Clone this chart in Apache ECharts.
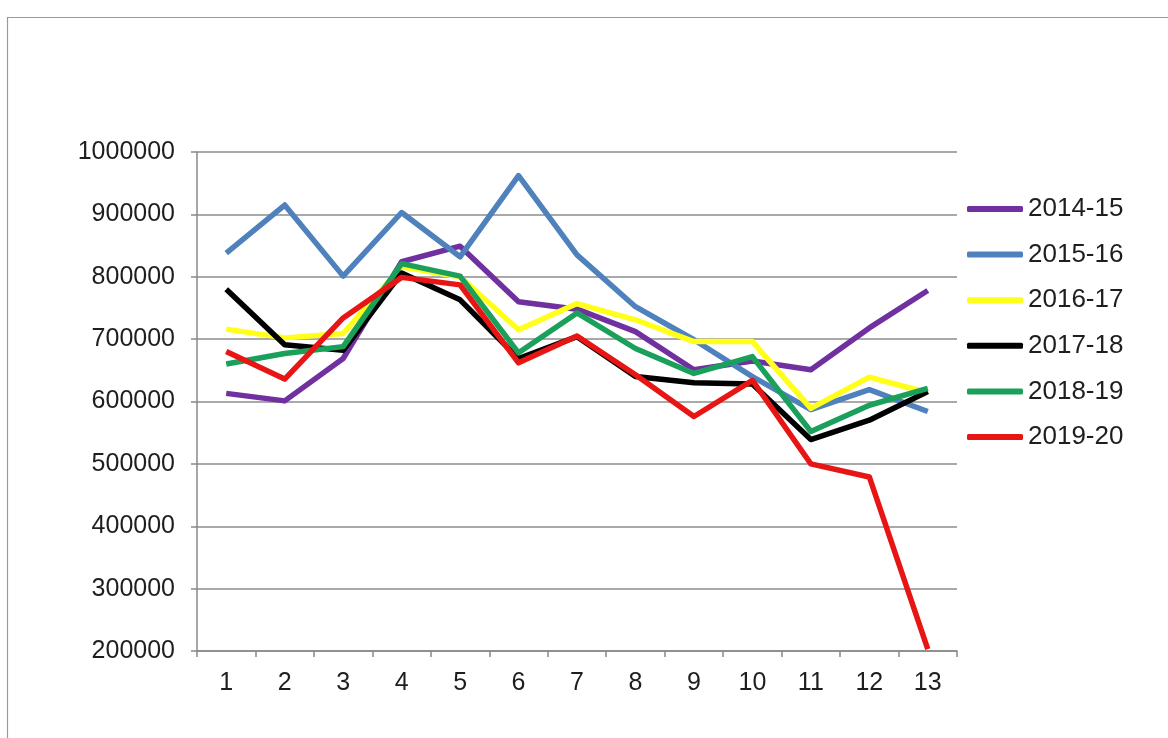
<!DOCTYPE html>
<html>
<head>
<meta charset="utf-8">
<script src="https://cdn.jsdelivr.net/npm/echarts@6/dist/echarts.min.js"></script>
<style>html,body{margin:0;padding:0;background:#fff;}#c{width:1168px;height:738px;}</style>
</head>
<body>
<div id="c"></div>
<script>
const categories = ['1','2','3','4','5','6','7','8','9','10','11','12','13'];
const seriesNames = ['2014-15','2015-16','2016-17','2017-18','2018-19','2019-20'];
const s2014 = [613000,601000,669000,824000,849000,760000,748000,712000,651000,665000,651000,718000,778000];
const s2015 = [838000,915000,801000,903000,832000,962000,835000,752000,699000,640000,587000,619000,584000];
const s2016 = [716000,702000,709000,816000,800000,715000,757000,731000,696000,696000,589000,639000,614000];
const s2017 = [780000,691000,682000,806000,763000,669000,704000,640000,630000,628000,539000,570000,616000];
const s2018 = [660000,677000,688000,821000,801000,678000,742000,685000,645000,672000,552000,594000,621000];
const s2019 = [680000,636000,734000,799000,787000,662000,705000,643000,576000,634000,500000,479000,203000];
const yTicks = [200000,300000,400000,500000,600000,700000,800000,900000,1000000];
const colors = ['#7030A0','#4F81BD','#FFFF1A','#000000','#1AA05A','#E81515'];
const allData = [s2014,s2015,s2016,s2017,s2018,s2019];

const chart = echarts.init(document.getElementById('c'));
const font = '"Liberation Sans", Arial, sans-serif';
chart.setOption({
  animation: false,
  backgroundColor: '#ffffff',
  graphic: [{
    type: 'rect', left: 5, top: 15, shape: {width: 1200, height: 800},
    style: {fill: 'none', stroke: '#9a9a9a', lineWidth: 1.2}, silent: true, z: -1
  }],
  grid: {left: 197, right: 211, top: 152, bottom: 87, containLabel: false},
  legend: {
    orient: 'vertical', left: 962, top: 191,
    itemWidth: 56, itemHeight: 6, itemGap: 19.6,
    icon: 'roundRect',
    textStyle: {fontFamily: font, fontSize: 26, color: '#1e1e1e', lineHeight: 26},
    data: seriesNames
  },
  xAxis: {
    type: 'category', data: categories, boundaryGap: true,
    axisLine: {lineStyle: {color: '#888888', width: 1.5}},
    axisTick: {show: true, inside: false, length: 6, alignWithLabel: false, lineStyle: {color: '#888888', width: 1.5}},
    axisLabel: {fontFamily: font, fontSize: 25, color: '#1e1e1e', margin: 20},
    splitLine: {show: false}
  },
  yAxis: {
    type: 'value', min: yTicks[0], max: yTicks[yTicks.length-1], interval: 100000,
    axisLine: {show: true, lineStyle: {color: '#888888', width: 1.5}},
    axisTick: {show: true, inside: false, length: 6, lineStyle: {color: '#888888', width: 1.5}},
    axisLabel: {fontFamily: font, fontSize: 25, color: '#1e1e1e', margin: 22, formatter: v => String(v)},
    splitLine: {show: true, lineStyle: {color: '#8c8c8c', width: 1.5}}
  },
  series: seriesNames.map((n, i) => ({
    name: n, type: 'line', data: allData[i], symbol: 'none',
    lineStyle: {color: colors[i], width: 5.5, join: 'round'},
    itemStyle: {color: colors[i]}
  }))
});
</script>
</body>
</html>
